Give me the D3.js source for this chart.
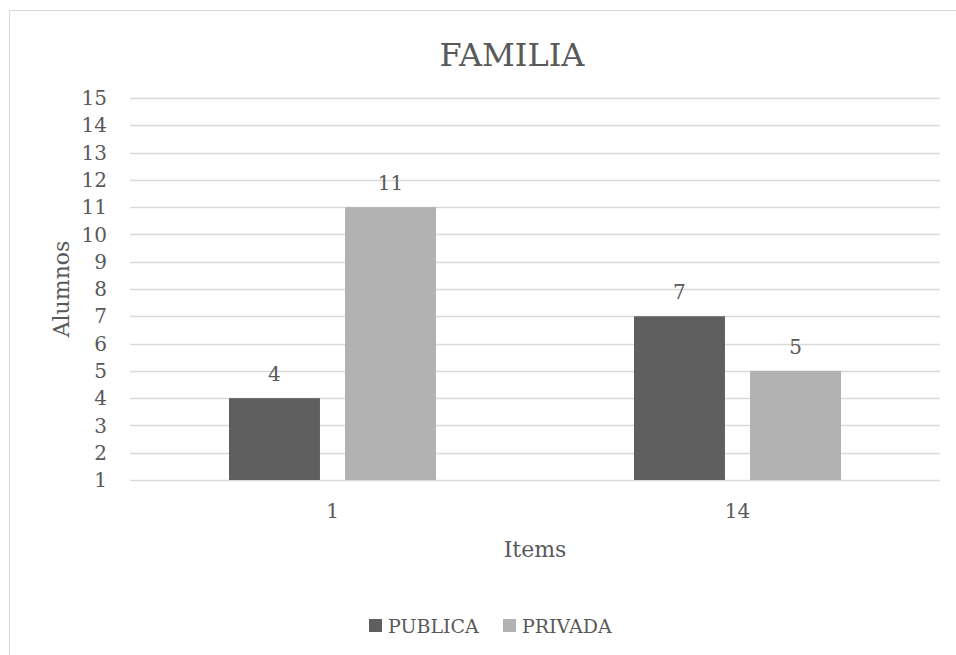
<!DOCTYPE html>
<html>
<head>
<meta charset="utf-8">
<script src="https://cdn.jsdelivr.net/npm/d3@7"></script>
<style>
  body { margin: 0; background: #fff; }
  text { font-family: "DejaVu Serif", serif; fill: #595959; }
</style>
</head>
<body>
<script>
const width = 956;
const height = 655;

const categories = ['1', '14'];
const seriesNames = ['PUBLICA', 'PRIVADA'];
const publica = [4, 7];
const privada = [11, 5];
const yTicks = [1, 2, 3, 4, 5, 6, 7, 8, 9, 10, 11, 12, 13, 14, 15];

const colors = ['#5f5f5f', '#b2b2b2'];

const margin = { top: 98, right: 16, bottom: 175, left: 130 };

const rows = categories.map((c, i) => ({ cat: c, values: [publica[i], privada[i]] }));

const svg = d3.select('body')
    .append('svg')
    .attr('width', width)
    .attr('height', height);

// chart border
svg.append('rect')
    .attr('x', 9.5)
    .attr('y', 10.5)
    .attr('width', 960)
    .attr('height', 700)
    .attr('fill', 'none')
    .attr('stroke', '#d9d9d9');

const x = d3.scaleBand()
    .domain(categories)
    .range([margin.left, width - margin.right]);

const x1 = d3.scaleBand()
    .domain(seriesNames)
    .range([0, x.bandwidth()])
    .paddingInner(0.216)
    .paddingOuter(0.853);

const y = d3.scaleLinear()
    .domain([1, 15])
    .range([height - margin.bottom, margin.top]);

// gridlines
svg.append('g')
    .selectAll('line')
    .data(yTicks)
    .enter().append('line')
    .attr('x1', margin.left)
    .attr('x2', width - margin.right)
    .attr('y1', d => Math.round(y(d)) + 0.5)
    .attr('y2', d => Math.round(y(d)) + 0.5)
    .style('stroke', '#d9d9d9')
    .style('stroke-width', 1.3);

// y tick labels
svg.append('g')
    .selectAll('text')
    .data(yTicks)
    .enter().append('text')
    .attr('x', 107)
    .attr('y', d => y(d))
    .attr('dy', '0.36em')
    .attr('text-anchor', 'end')
    .style('font-size', '20px')
    .text(d => d);

// bars
const group = svg.append('g')
    .selectAll('g')
    .data(rows)
    .enter().append('g')
    .attr('transform', d => `translate(${x(d.cat)},0)`);

group.selectAll('rect')
    .data(d => d.values.map((v, i) => ({ key: seriesNames[i], value: v, i: i })))
    .enter().append('rect')
    .attr('x', d => x1(d.key))
    .attr('width', x1.bandwidth())
    .attr('y', d => y(d.value))
    .attr('height', d => y(1) - y(d.value))
    .style('fill', d => colors[d.i]);

group.selectAll('text')
    .data(d => d.values.map((v, i) => ({ key: seriesNames[i], value: v })))
    .enter().append('text')
    .attr('x', d => x1(d.key) + x1.bandwidth() / 2)
    .attr('y', d => y(d.value) - 17)
    .attr('text-anchor', 'middle')
    .style('font-size', '20px')
    .text(d => d.value);

// x labels
svg.append('g')
    .selectAll('text')
    .data(categories)
    .enter().append('text')
    .attr('x', d => x(d) + x.bandwidth() / 2)
    .attr('y', 518)
    .attr('text-anchor', 'middle')
    .style('font-size', '20px')
    .text(d => d);

// title
svg.append('text')
    .attr('x', 512)
    .attr('y', 66)
    .attr('text-anchor', 'middle')
    .style('font-size', '32px')
    .text('FAMILIA');

// axis titles
svg.append('text')
    .attr('x', 535)
    .attr('y', 557)
    .attr('text-anchor', 'middle')
    .style('font-size', '22px')
    .text('Items');

svg.append('text')
    .attr('transform', 'translate(69,289) rotate(-90)')
    .attr('text-anchor', 'middle')
    .style('font-size', '22px')
    .text('Alumnos');

// legend
const legendX = [369, 503];
const legend = svg.append('g')
    .selectAll('g')
    .data(seriesNames)
    .enter().append('g')
    .attr('transform', (d, i) => `translate(${legendX[i]},619)`);

legend.append('rect')
    .attr('width', 13)
    .attr('height', 13)
    .style('fill', (d, i) => colors[i]);

legend.append('text')
    .attr('x', 19)
    .attr('y', 14)
    .style('font-size', '19px')
    .text(d => d);
</script>
</body>
</html>
